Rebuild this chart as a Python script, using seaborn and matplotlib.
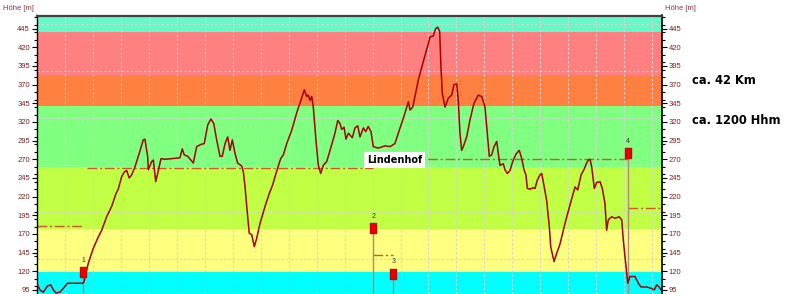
import numpy as np
import pandas as pd
import matplotlib
matplotlib.use("Agg")
import matplotlib.pyplot as plt
from matplotlib.ticker import MultipleLocator, FixedLocator
import seaborn as sns

# ---------------- data ----------------
dist_km = [0.02, 0.21, 0.45, 0.74, 0.98, 1.17, 1.36, 1.64, 1.88, 2.17, 3.27, 3.36, 3.67, 4.03, 4.38,
           4.63, 4.98, 5.34, 5.65, 5.81, 6.06, 6.24, 6.41, 6.60, 6.77, 7.01, 7.31, 7.60, 7.72, 7.92,
           7.96, 8.20, 8.32, 8.49, 8.63, 8.87, 9.15, 10.22, 10.39, 10.53, 10.78, 11.18, 11.42, 11.73,
           11.96, 12.21, 12.44, 12.64, 12.85, 13.09, 13.25, 13.45, 13.64, 13.80, 13.97, 14.16, 14.35,
           14.64, 14.76, 14.88, 15.00, 15.18, 15.36, 15.54, 15.71, 15.95, 16.31, 16.61, 16.86, 17.09,
           17.33, 17.43, 17.62, 17.86, 18.22, 18.57, 18.93, 19.12, 19.29, 19.40, 19.53, 19.65, 19.76,
           19.95, 20.12, 20.29, 20.48, 20.72, 20.96, 21.31, 21.51, 21.67, 21.79, 21.96, 22.10, 22.27,
           22.55, 22.74, 22.94, 23.10, 23.34, 23.51, 23.69, 23.89, 24.05, 24.41, 24.89, 25.25, 25.60,
           25.84, 26.20, 26.44, 26.56, 26.68, 26.87, 27.03, 27.27, 27.63, 27.99, 28.11, 28.34, 28.51,
           28.66, 28.80, 28.89, 28.99, 29.18, 29.42, 29.66, 29.82, 30.02, 30.13, 30.25, 30.37, 30.49,
           30.73, 30.97, 31.25, 31.56, 31.81, 32.04, 32.16, 32.35, 32.52, 32.69, 32.88, 32.99, 33.11,
           33.35, 33.47, 33.64, 33.83, 34.02, 34.26, 34.49, 34.67, 34.83, 34.97, 35.07, 35.26, 35.50,
           35.62, 35.78, 35.97, 36.10, 36.45, 36.64, 36.74, 36.98, 37.17, 37.41, 37.76, 38.12, 38.48,
           38.67, 38.91, 39.14, 39.31, 39.43, 39.55, 39.67, 39.86, 40.03, 40.27, 40.43, 40.62, 40.74,
           40.86, 41.10, 41.34, 41.63, 41.82, 41.93, 42.10, 42.25, 42.41, 42.77, 43.01, 43.20, 43.61,
           43.96, 44.15, 44.32, 44.49, 44.63]
elev_m = [103, 95, 92, 100, 102, 95, 91, 92, 97, 104, 104, 106, 131, 151, 166,
          175, 193, 207, 224, 230, 247, 253, 255, 245, 249, 260, 278, 296, 297, 273,
          256, 267, 269, 240, 251, 271, 270, 272, 284, 276, 274, 265, 287, 290,
          291, 316, 324, 318, 296, 274, 274, 291, 300, 282, 296, 278, 265,
          261, 253, 233, 207, 171, 169, 153, 164, 184, 207, 224, 236, 251,
          265, 271, 276, 291, 309, 332, 352, 363, 354, 356, 349, 354, 340,
          296, 262, 251, 262, 267, 282, 305, 322, 318, 310, 313, 297, 305,
          299, 312, 315, 300, 312, 307, 314, 307, 287, 285, 288, 287, 291,
          305, 325, 340, 347, 336, 340, 354, 376, 401, 425, 434, 435, 445,
          447, 441, 394, 358, 340, 352, 356, 370, 371, 349, 305, 282, 287,
          300, 323, 345, 356, 354, 340, 314, 274, 276, 287, 294, 278, 262,
          264, 256, 251, 255, 267, 277, 282, 271, 256, 249, 231, 230, 232,
          231, 242, 249, 251, 215, 180, 153, 133, 144, 157, 184, 209, 233,
          229, 249, 257, 265, 269, 270, 260, 231, 239, 240, 231, 211, 175,
          189, 193, 191, 193, 189, 162, 131, 104, 113, 113, 104, 99, 99,
          97, 95, 102, 99, 95]

# colour bands (lower edge, upper edge)
band_low = [80, 119, 177, 260, 342, 383, 441]
band_high = [119, 177, 260, 342, 383, 441, 470]
band_colors = ["#00ffff", "#ffff80", "#c0ff44", "#80ff80", "#ff8040", "#ff8080", "#66f9c8"]

# waypoint markers
marker_km = [3.29, 24.05, 25.48, 42.29]
marker_m = [119, 178, 117, 278]
marker_labels = ["1", "2", "3", "4"]

# segment mean (dash-dot) lines
seg_start = [0.0, 3.55, 24.05, 25.48, 42.29]
seg_end = [3.29, 24.05, 25.48, 42.29, 44.7]
seg_m = [181, 259, 142, 271, 205]

ytick_vals = [95, 120, 145, 170, 195, 220, 245, 270, 295, 320, 345, 370, 395, 420, 445]
grid_y = [136.5, 199.5, 262.5, 325.5, 388.5, 451.5]

# ---------------- figure ----------------
sns.set_style("white")
plt.rcParams["font.family"] = ["Liberation Sans", "DejaVu Sans"]

fig = plt.figure(figsize=(8.0, 2.94), dpi=100)
ax = fig.add_axes([37 / 800, 0.0, 625 / 800, 278.5 / 294])
ax.set_xlim(0, 44.7)
ax.set_ylim(89.6, 462.6)

for lo, hi, c in zip(band_low, band_high, band_colors):
    ax.axhspan(lo, hi, color=c, lw=0, zorder=0)

# grid
ax.xaxis.set_major_locator(MultipleLocator(2))
ax.grid(False)
for gx in np.arange(2, 44.7, 2):
    ax.axvline(gx, color="#d4d4d4", lw=0.8, ls=(0, (2, 2)), zorder=1)
for gy in grid_y:
    ax.axhline(gy, color="#d4d4d4", lw=0.8, ls=(0, (2, 2)), zorder=1)

# segment mean lines
for s, e, m in zip(seg_start, seg_end, seg_m):
    ax.plot([s, e], [m, m], color="#cc5a2a", lw=1.0, ls=(0, (7, 2, 1.5, 2)), zorder=2)

# profile
df = pd.DataFrame({"km": dist_km, "m": elev_m})
sns.lineplot(data=df, x="km", y="m", ax=ax, color="#a80000", lw=1.1, sort=False, zorder=4)

# waypoint markers
rect = [(-0.55, -1), (0.55, -1), (0.55, 1), (-0.55, 1), (-0.55, -1)]
for x, m, lab in zip(marker_km, marker_m, marker_labels):
    ax.vlines(x, 89.6, m, color="#b08a78", lw=1.0, zorder=3)
    ax.plot([x], [m], marker=rect, ms=7, color="#ee0000", mec="#cc0000", zorder=5)
    ax.annotate(lab, (x, m), xytext=(0, 6), textcoords="offset points",
                ha="center", va="bottom", fontsize=5, color="#333333")

# Lindenhof label
ax.text(25.6, 269.5, "Lindenhof", ha="center", va="center", fontsize=7, fontweight="bold",
        family=["DejaVu Sans"], color="black", zorder=6,
        bbox=dict(boxstyle="square,pad=0.3", fc="white", ec="none"))

# axes styling
ax.set_xlabel("")
ax.set_ylabel("")
ax.tick_params(axis="x", bottom=False, labelbottom=False)
ax.yaxis.set_major_locator(FixedLocator(ytick_vals))
ax.yaxis.set_minor_locator(MultipleLocator(10))
ax.set_yticklabels([str(v) for v in ytick_vals])
ax.tick_params(axis="y", which="both", left=True, right=True, labelleft=True, labelright=True,
               direction="out", color="black", width=0.8, labelsize=5.5, labelcolor="#7a2020", pad=1.5)
ax.tick_params(axis="y", which="major", length=3.5)
ax.tick_params(axis="y", which="minor", length=2.5)
ax.spines["bottom"].set_visible(False)
ax.spines["top"].set_color("#404040")
ax.spines["top"].set_linewidth(1.6)
ax.spines["left"].set_color("black")
ax.spines["left"].set_linewidth(1.0)
ax.spines["right"].set_color("black")
ax.spines["right"].set_linewidth(1.2)

fig.text(3 / 800, 1 - 8 / 294, "Höhe [m]", fontsize=5.5, color="#8b3a3a", ha="left", va="center")
fig.text(665 / 800, 1 - 8 / 294, "Höhe [m]", fontsize=5.5, color="#8b3a3a", ha="left", va="center")

fig.text(692 / 800, 1 - 80 / 294, "ca. 42 Km", fontsize=8.3, fontweight="bold",
         family=["DejaVu Sans"], color="black", ha="left", va="center")
fig.text(692 / 800, 1 - 120 / 294, "ca. 1200 Hhm", fontsize=8.3, fontweight="bold",
         family=["DejaVu Sans"], color="black", ha="left", va="center")

fig.savefig("out.png", dpi=100, facecolor="white")
